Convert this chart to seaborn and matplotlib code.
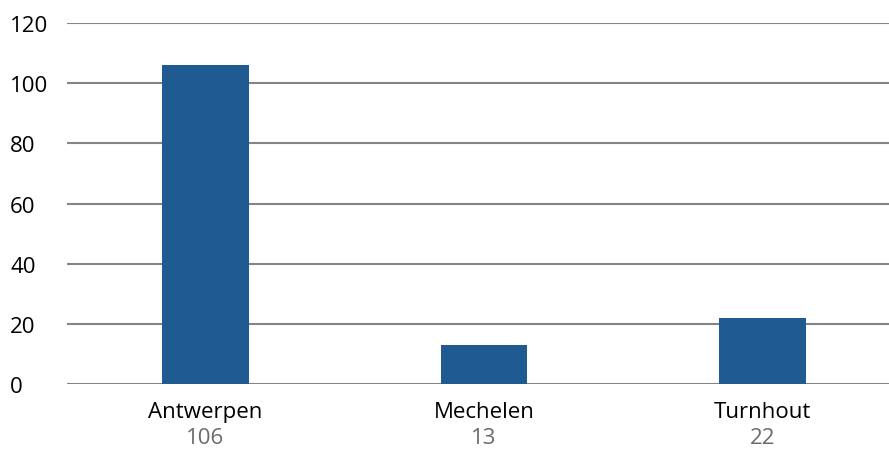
import pandas as pd
import seaborn as sns
import matplotlib.pyplot as plt
from matplotlib.transforms import blended_transform_factory

# data
regions = ["Antwerpen", "Mechelen", "Turnhout"]
counts = [106, 13, 22]
yticks = [0, 20, 40, 60, 80, 100, 120]

df = pd.DataFrame({"Region": regions, "Count": counts})

sns.set_style("white")
plt.rcParams['font.family'] = ['Open Sans', 'DejaVu Sans']

fig = plt.figure(figsize=(8.89, 4.52), dpi=100)
ax = fig.add_axes([0.0754, 0.148, 0.9246, 0.799])

sns.barplot(data=df, x="Region", y="Count", color="#1f5b91", width=0.312,
            saturation=1, linewidth=0, ax=ax, zorder=3)

ax.set_ylim(0, 120)
ax.set_xlim(-0.497, 2.454)
ax.set_yticks(yticks)
ax.yaxis.grid(True, color="#858585", linewidth=1.5, zorder=0)
ax.set_axisbelow(True)
for s in ax.spines.values():
    s.set_visible(False)

ax.tick_params(axis="y", length=0, pad=41, labelsize=16, labelcolor="black")
for lbl in ax.get_yticklabels():
    lbl.set_horizontalalignment("left")
ax.tick_params(axis="x", length=0, pad=12, labelsize=16, labelcolor="black")
ax.set_xlabel("")
ax.set_ylabel("")

# value under each name
trans = blended_transform_factory(ax.transData, ax.transAxes)
for i, v in enumerate(counts):
    ax.text(i, -0.118, str(v), transform=trans, ha="center", va="top",
            fontsize=16, color="#6b6b6b")

fig.savefig("out.png", dpi=100)
